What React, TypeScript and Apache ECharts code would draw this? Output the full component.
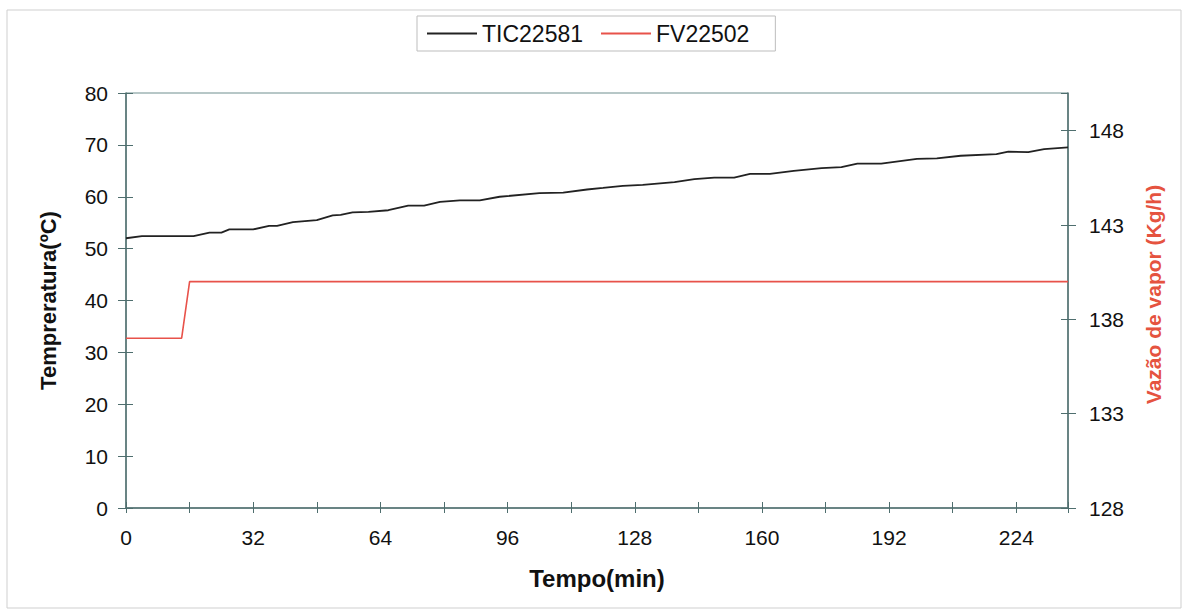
import React, { useEffect, useRef } from "react";
import * as echarts from "echarts";

const ticTimes = [0, 4, 17, 21, 24, 26, 32, 36, 38, 42, 45, 48, 52, 54, 57, 61, 66, 71, 75, 79, 84, 89, 94, 104, 110, 116, 120, 125, 130, 138, 143, 148, 153, 157, 162, 168, 175, 180, 184, 190, 199, 204, 210, 219, 222, 227, 231, 237];
const ticValues = [52.0, 52.4, 52.4, 53.1, 53.1, 53.7, 53.7, 54.4, 54.4, 55.1, 55.3, 55.5, 56.4, 56.5, 57.0, 57.1, 57.4, 58.3, 58.3, 59.0, 59.3, 59.3, 60.0, 60.7, 60.8, 61.4, 61.7, 62.1, 62.3, 62.8, 63.4, 63.7, 63.7, 64.4, 64.4, 65.0, 65.5, 65.7, 66.4, 66.4, 67.3, 67.4, 67.9, 68.2, 68.7, 68.6, 69.2, 69.5];

const fvTimes = [0, 14, 16, 237];
const fvValues = [137, 137, 140, 140];

const seriesNames = ["TIC22581", "FV22502"];
const xTitle = "Tempo(min)";
const yLeftTitle = "Tempreratura(ºC)";
const yRightTitle = "Vazão de vapor (Kg/h)";

const AXIS_COLOR = "#4f6e6e";
const FONT = "Liberation Sans, Arial, sans-serif";

export default function App() {
  const ref = useRef<HTMLDivElement>(null);
  useEffect(() => {
    if (!ref.current) return;
    const chart = echarts.init(ref.current, null, { renderer: "svg" });
    const ticData = ticTimes.map((t, i) => [t, ticValues[i]]);
    const fvData = fvTimes.map((t, i) => [t, fvValues[i]]);
    const xBase = { type: "value", min: 0, max: 237, interval: 16 };
    const yLBase = { type: "value", min: 0, max: 80, interval: 10 };
    const yRBase = { type: "value", min: 128, max: 150, interval: 5 };
    const innerTick = { show: true, inside: true, length: 7, lineStyle: { color: AXIS_COLOR } };
    chart.setOption({
      animation: false,
      backgroundColor: "#ffffff",
      textStyle: { fontFamily: FONT },
      graphic: [
        {
          type: "rect",
          shape: { x: 7, y: 10, width: 1174, height: 598 },
          style: { fill: "none", stroke: "#cfcfcf", lineWidth: 1 },
          silent: true,
          z: -10,
        },
      ],
      legend: {
        left: 417,
        top: 16,
        padding: [6, 26, 6, 10],
        borderColor: "#bdbdbd",
        borderWidth: 1,
        icon: "rect",
        itemWidth: 50,
        itemHeight: 2,
        itemGap: 18,
        textStyle: { fontSize: 23, color: "#111", fontFamily: FONT },
        data: seriesNames,
      },
      grid: {
        left: 126,
        right: 117,
        top: 93,
        bottom: 103,
        show: true,
        borderColor: "#6f8f8f",
        borderWidth: 1,
      },
      xAxis: [
        {
          ...xBase,
          position: "bottom",
          name: xTitle,
          nameLocation: "middle",
          nameGap: 58,
          nameTextStyle: { fontSize: 24, fontWeight: "bold", color: "#111", fontFamily: FONT },
          axisLine: { show: true, onZero: false, lineStyle: { color: AXIS_COLOR, width: 1.5 } },
          axisTick: { show: true, inside: false, length: 5, lineStyle: { color: AXIS_COLOR } },
          axisLabel: {
            fontSize: 21,
            color: "#111",
            margin: 19,
            fontFamily: FONT,
            formatter: (v: number) => (v % 32 === 0 ? String(v) : ""),
          },
          splitLine: { show: false },
        },
        {
          ...xBase,
          position: "bottom",
          axisLine: { show: false, onZero: false },
          axisTick: { ...innerTick, length: 6 },
          axisLabel: { show: false },
          splitLine: { show: false },
        },
      ],
      yAxis: [
        {
          ...yLBase,
          position: "left",
          name: yLeftTitle,
          nameLocation: "middle",
          nameGap: 67,
          nameTextStyle: { fontSize: 22, fontWeight: "bold", color: "#111", fontFamily: FONT },
          axisLine: { show: true, onZero: false, lineStyle: { color: AXIS_COLOR, width: 1.5 } },
          axisTick: { show: true, inside: false, length: 8, lineStyle: { color: AXIS_COLOR } },
          axisLabel: { fontSize: 21, color: "#111", margin: 18, fontFamily: FONT },
          splitLine: { show: false },
        },
        {
          ...yRBase,
          position: "right",
          name: yRightTitle,
          nameLocation: "middle",
          nameGap: 75,
          nameTextStyle: {
            fontSize: 21,
            fontWeight: "bold",
            color: "#e5533f",
            fontFamily: FONT,
            padding: [0, 0, 0, 12],
          },
          axisLine: { show: true, onZero: false, lineStyle: { color: AXIS_COLOR, width: 1.5 } },
          axisTick: { show: true, inside: false, length: 8, lineStyle: { color: AXIS_COLOR } },
          axisLabel: { fontSize: 21, color: "#111", margin: 21, showMaxLabel: false, fontFamily: FONT },
          splitLine: { show: false },
        },
        {
          ...yLBase,
          position: "left",
          axisLine: { show: false, onZero: false },
          axisTick: innerTick,
          axisLabel: { show: false },
          splitLine: { show: false },
        },
        {
          ...yRBase,
          position: "right",
          axisLine: { show: false, onZero: false },
          axisTick: innerTick,
          axisLabel: { show: false },
          splitLine: { show: false },
        },
      ],
      series: [
        {
          name: seriesNames[0],
          type: "line",
          xAxisIndex: 0,
          yAxisIndex: 0,
          data: ticData,
          symbol: "none",
          showSymbol: false,
          lineStyle: { color: "#222222", width: 1.8 },
          itemStyle: { color: "#222222" },
        },
        {
          name: seriesNames[1],
          type: "line",
          xAxisIndex: 0,
          yAxisIndex: 1,
          data: fvData,
          symbol: "none",
          showSymbol: false,
          lineStyle: { color: "#e8524a", width: 1.6 },
          itemStyle: { color: "#e8524a" },
        },
      ],
    });
    return () => chart.dispose();
  }, []);
  return (
    <div
      ref={ref}
      style={{ position: "fixed", left: 0, top: 0, width: 1185, height: 611, background: "#fff" }}
    />
  );
}
